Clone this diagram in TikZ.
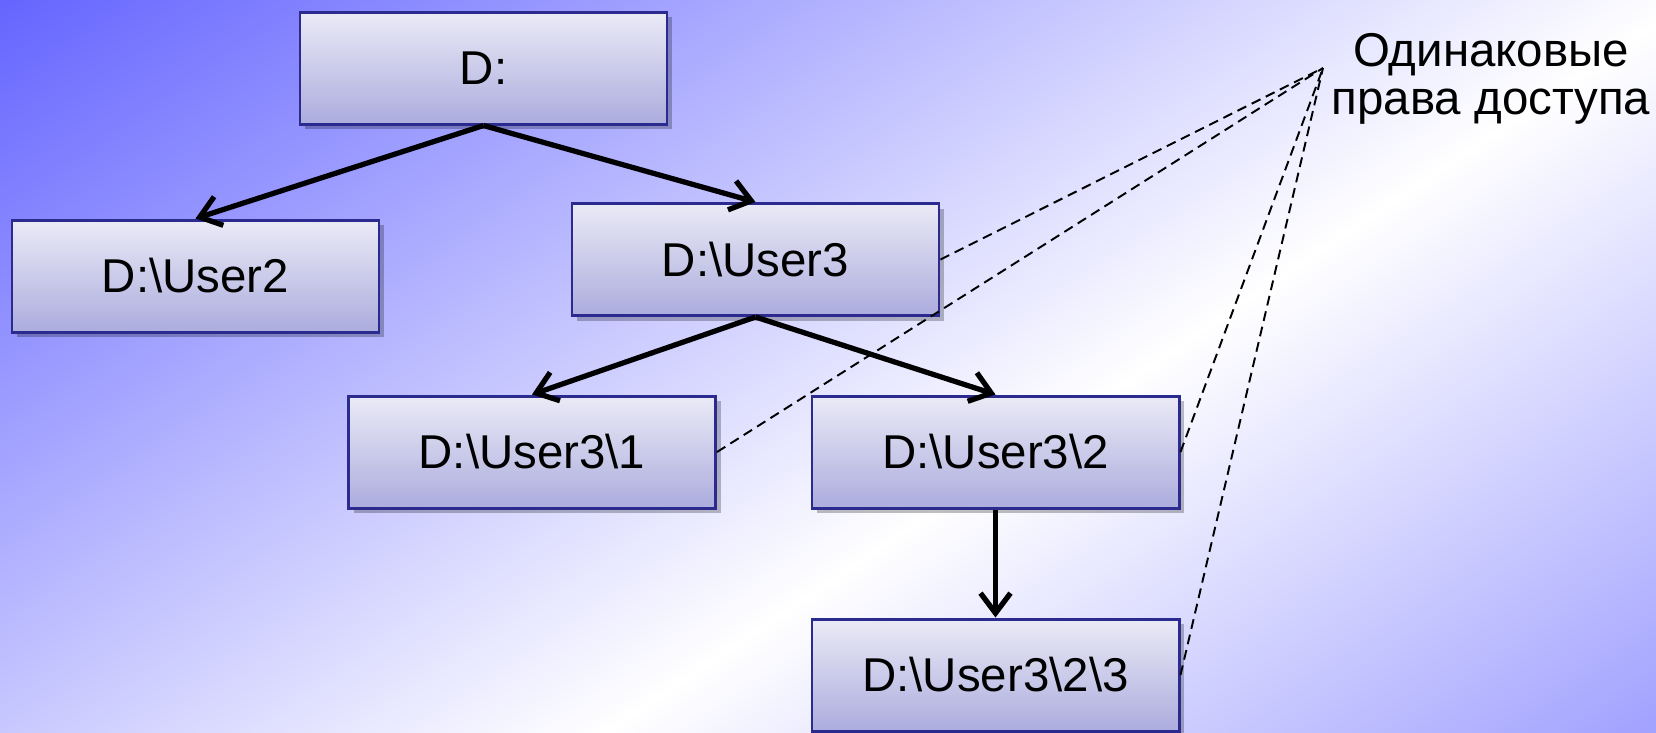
\documentclass[tikz,border=0pt]{standalone}
\usepackage{fontspec}
\setmainfont{Liberation Sans}
\usetikzlibrary{arrows.meta,shadows}
\definecolor{dirblue}{HTML}{2B2B8F}
\definecolor{dirtop}{HTML}{EAEAF6}
\definecolor{dirbottom}{HTML}{ACACDE}
\definecolor{bgdeep}{HTML}{6464FF}
\definecolor{bglight}{HTML}{A0A0FF}
\pgfdeclarehorizontalshading{slide}{100bp}{color(0bp)=(bgdeep); color(30.6bp)=(bgdeep); color(54.5bp)=(white); color(69.4bp)=(bglight); color(100bp)=(bglight)}

\begin{document}
\begin{tikzpicture}[
    font=\fontsize{13.5}{13.5}\selectfont,
    folder/.style={
        draw=dirblue,
        top color=dirtop,
        bottom color=dirbottom,
        line width=0.85pt,
        minimum width=3.67cm,
        minimum height=1.12cm,
        drop shadow={shadow xshift=0.5mm,shadow yshift=-0.5mm,opacity=0.25,fill=black}
    },
    tree/.style={-{Straight Barb[length=2mm,width=3mm]},line width=1.5pt},
    share/.style={dash pattern=on 2.8pt off 1.7pt,line width=0.55pt}
]

% Slide background
\useasboundingbox (0,0) rectangle (16.56,-7.32);
\begin{scope}
    \clip (0,0) rectangle (16.56,-7.32);
    \shade[shading=slide,shading angle=-56] (8.28,-3.66) ++(-10,-10) rectangle ++(20,20);
\end{scope}

% Folder tree
\node[folder] (root) at (4.835,-0.68) {D:};
\node[folder] (user2) at (1.955,-2.76) {D:\textbackslash User2};
\node[folder] (user3) at (7.555,-2.595) {D:\textbackslash User3};
\node[folder] (sub1) at (5.32,-4.52) {D:\textbackslash User3\textbackslash 1};
\node[folder] (sub2) at (9.955,-4.52) {D:\textbackslash User3\textbackslash 2};
\node[folder] (sub23) at (9.955,-6.75) {D:\textbackslash User3\textbackslash 2\textbackslash 3};

\draw[tree] (root.south) -- (user2.north);
\draw[tree] (root.south) -- (user3.north);
\draw[tree] (user3.south) -- (sub1.north);
\draw[tree] (user3.south) -- (sub2.north);
\draw[tree] (sub2.south) -- (sub23.north);

% Same access rights
\node[align=center] (rights) at (14.91,-0.79) {Одинаковые\\права доступа};
\coordinate (meet) at (13.23,-0.68);

\draw[share] (user3.east) -- (meet);
\draw[share] (sub1.east) -- (meet);
\draw[share] (sub2.east) -- (meet);
\draw[share] (sub23.east) -- (meet);

\end{tikzpicture}
\end{document}
